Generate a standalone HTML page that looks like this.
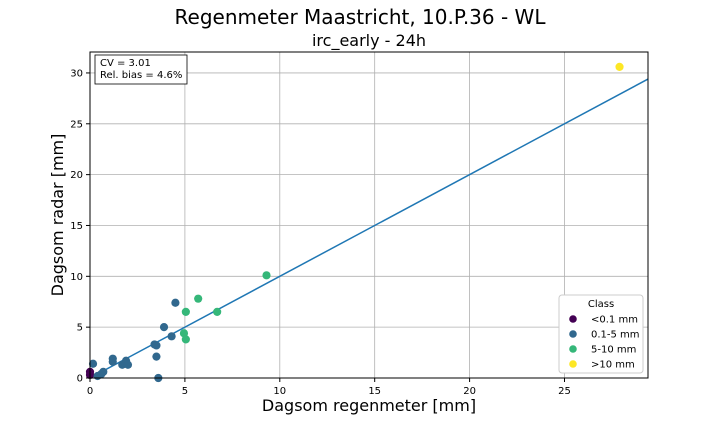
<!DOCTYPE html>
<html><head><meta charset="utf-8"><style>
body{margin:0;background:#fff;font-family:"DejaVu Sans",sans-serif}
</style></head><body>
<svg id="c" width="720" height="432" xmlns="http://www.w3.org/2000/svg" font-family="DejaVu Sans, sans-serif">
<text x="360" y="24" font-size="20" text-anchor="middle">Regenmeter Maastricht, 10.P.36 - WL</text>
<text x="369" y="46" font-size="16" text-anchor="middle">irc_early - 24h</text>
<g id="grid"></g><g id="marks"></g><g id="axes"></g>
<text x="369" y="411" font-size="16" text-anchor="middle">Dagsom regenmeter [mm]</text>
<text transform="translate(63,215) rotate(-90)" font-size="16" text-anchor="middle">Dagsom radar [mm]</text>
<g>
<rect x="95" y="55" width="92" height="29" fill="#fff" stroke="#000" stroke-width="0.8"/>
<text x="100" y="66" font-size="10">CV = 3.01</text>
<text x="100" y="78" font-size="10">Rel. bias = 4.6%</text>
</g>
<g>
<rect x="559" y="295" width="84" height="78" rx="3" fill="#fff" stroke="#ccc"/>
<text x="601" y="307" font-size="10" text-anchor="middle">Class</text>
<g id="leg"></g>
</g>
</svg>
<script>
const xs=[0,0,0.16,0.4,0.6,0.7,1.2,1.2,1.7,1.9,2.0,3.4,3.5,3.5,3.6,3.9,4.3,4.5,5.05,5.7,6.7,4.95,5.05,9.3,27.9];
const ys=[0.6,0.3,1.4,0.2,0.4,0.6,1.9,1.6,1.3,1.7,1.3,3.3,3.2,2.1,0,5.0,4.1,7.4,6.5,7.8,6.5,4.4,3.8,10.1,30.6];
const cls=[0,0,1,1,1,1,1,1,1,1,1,1,1,1,1,1,1,1,2,2,2,2,2,2,3];
const classLabels=["<0.1 mm","0.1-5 mm","5-10 mm",">10 mm"];
const classColors=["#440154","#31688e","#35b779","#fde725"];
const xTicks=[0,5,10,15,20,25];
const yTicks=[0,5,10,15,20,25,30];
const L=90,R=648,T=52,B=378,XMAX=29.4,YMAX=32.06;
const sx=v=>L+v/XMAX*(R-L), sy=v=>B-v/YMAX*(B-T);
const NS="http://www.w3.org/2000/svg";
function mk(p,t,a){const e=document.createElementNS(NS,t);for(const k in a)e.setAttribute(k,a[k]);document.getElementById(p).appendChild(e);return e;}
xTicks.forEach(t=>{const g=mk('grid','line',{x1:sx(t),x2:sx(t),y1:T,y2:B,stroke:'#b0b0b0','stroke-width':0.8});


mk('axes','line',{x1:sx(t),x2:sx(t),y1:B,y2:B+4,stroke:'#000'});
const l=mk('axes','text',{x:sx(t),y:B+16,'font-size':10,'text-anchor':'middle'});l.textContent=t;

});
yTicks.forEach(t=>{const g=mk('grid','line',{x1:L,x2:R,y1:sy(t),y2:sy(t),stroke:'#b0b0b0','stroke-width':0.8});


mk('axes','line',{x1:L-4,x2:L,y1:sy(t),y2:sy(t),stroke:'#000'});
const l=mk('axes','text',{x:L-7,y:sy(t)+3.5,'font-size':10,'text-anchor':'end'});l.textContent=t;

});
const ln=mk('marks','line',{x1:sx(0),y1:sy(0),x2:sx(XMAX),y2:sy(XMAX),stroke:'#1f77b4','stroke-width':1.5});


xs.forEach((x,i)=>{const c=mk('marks','circle',{cx:sx(x),cy:sy(ys[i]),r:4.1,fill:classColors[cls[i]]});

});
const fr=mk('axes','rect',{x:L,y:T,width:R-L,height:B-T,fill:'none',stroke:'#000','stroke-width':1});


classLabels.forEach((t,i)=>{const y=319+i*15;
const c=mk('leg','circle',{cx:573,cy:y,r:3.8,fill:classColors[i]});


const l=mk('leg','text',{x:591,y:y+3.5,'font-size':10});l.textContent=t;

});
</script>
</body></html>
